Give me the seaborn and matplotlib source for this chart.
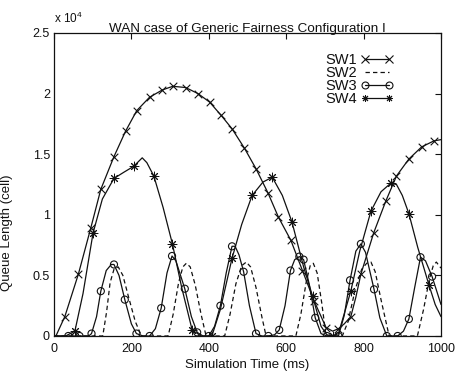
import matplotlib
matplotlib.use("Agg")
import matplotlib.pyplot as plt
import pandas as pd
import seaborn as sns
from matplotlib.lines import Line2D

# Queue length of each switch (units of 10^4 cells) against simulation time (ms)
sw1_t = [0, 5, 28, 63, 95, 121, 155, 185, 214, 247, 280, 307, 340, 372, 402, 432,
         460, 492, 522, 553, 580, 612, 642, 672, 703, 720, 735, 750, 767, 780, 793,
         826, 857, 885, 917, 950, 982, 1000]
sw1_q = [0.0, 0.0, 0.16, 0.51, 0.89, 1.21, 1.48, 1.69, 1.86, 1.97, 2.03, 2.06, 2.05,
         2.00, 1.93, 1.82, 1.71, 1.55, 1.38, 1.18, 0.98, 0.79, 0.54, 0.29, 0.07, 0.04,
         0.06, 0.10, 0.16, 0.32, 0.51, 0.85, 1.11, 1.32, 1.46, 1.56, 1.61, 1.62]
sw1_marks = [28, 63, 95, 121, 155, 185, 214, 247, 280, 307, 340, 372, 402, 432, 460,
             492, 522, 553, 580, 612, 642, 672, 703, 735, 767, 793, 826, 857, 885, 917,
             950, 982]

sw2_t = [0, 126, 136, 145, 155, 166, 178, 192, 210, 226, 295, 308, 322, 333, 342, 352,
         365, 380, 393, 441, 455, 470, 485, 497, 508, 522, 537, 548, 625, 638, 652, 662,
         670, 680, 692, 703, 745, 760, 778, 795, 808, 819, 830, 845, 866, 939, 955, 970,
         980, 988, 1000]
sw2_q = [0.0, 0.0, 0.20, 0.44, 0.55, 0.57, 0.50, 0.33, 0.12, 0.0, 0.0, 0.18, 0.44, 0.57,
         0.60, 0.57, 0.42, 0.18, 0.0, 0.0, 0.18, 0.43, 0.58, 0.61, 0.57, 0.40, 0.16, 0.0,
         0.0, 0.18, 0.45, 0.58, 0.60, 0.52, 0.27, 0.0, 0.0, 0.12, 0.38, 0.55, 0.60, 0.61,
         0.53, 0.30, 0.0, 0.0, 0.22, 0.47, 0.58, 0.61, 0.56]

sw3_t = [0, 37, 66, 90, 97, 110, 121, 135, 148, 155, 168, 183, 200, 213, 230, 247, 262,
         277, 292, 305, 315, 325, 338, 355, 370, 385, 400, 415, 430, 445, 460, 468, 478,
         490, 505, 522, 537, 554, 570, 582, 597, 611, 622, 634, 645, 660, 675, 690, 705,
         735, 750, 765, 780, 793, 805, 815, 827, 842, 860, 888, 903, 917, 932, 947, 960,
         977, 990, 1000]
sw3_q = [0.0, 0.0, 0.0, 0.0, 0.02, 0.16, 0.37, 0.54, 0.59, 0.59, 0.50, 0.30, 0.10, 0.02,
         0.0, 0.0, 0.06, 0.23, 0.52, 0.66, 0.62, 0.52, 0.39, 0.16, 0.03, 0.0, 0.0, 0.08,
         0.25, 0.52, 0.74, 0.74, 0.67, 0.53, 0.25, 0.02, 0.0, 0.0, 0.01, 0.05, 0.25, 0.54,
         0.63, 0.655, 0.63, 0.42, 0.15, 0.02, 0.0, 0.0, 0.17, 0.46, 0.70, 0.76, 0.69, 0.55,
         0.385, 0.15, 0.0, 0.0, 0.04, 0.14, 0.40, 0.65, 0.62, 0.49, 0.36, 0.26]
sw3_marks = [37, 66, 97, 121, 155, 183, 213, 247, 277, 305, 338, 370, 400, 430, 460,
             490, 522, 554, 582, 611, 634, 645, 675, 705, 735, 765, 793, 827, 860, 888,
             917, 947, 977]

sw4_t = [0, 30, 54, 75, 101, 125, 155, 180, 206, 228, 240, 258, 282, 306, 330, 357, 380,
         408, 430, 460, 485, 512, 540, 564, 590, 615, 645, 668, 690, 705, 720, 735, 767,
         790, 819, 845, 870, 885, 900, 917, 940, 969, 985, 1000]
sw4_q = [0.0, 0.0, 0.04, 0.35, 0.85, 1.13, 1.30, 1.35, 1.40, 1.47, 1.43, 1.32, 1.06, 0.76,
         0.40, 0.05, 0.0, 0.0, 0.22, 0.64, 0.92, 1.16, 1.27, 1.31, 1.16, 0.94, 0.57, 0.33,
         0.08, 0.01, 0.0, 0.02, 0.37, 0.70, 1.03, 1.19, 1.26, 1.25, 1.16, 1.01, 0.73, 0.42,
         0.26, 0.16]
sw4_marks = [54, 101, 155, 206, 258, 306, 357, 408, 460, 512, 564, 615, 668, 720, 767,
             819, 870, 917, 969]

series_names = ["SW1", "SW2", "SW3", "SW4"]
x_ticks = [0, 200, 400, 600, 800, 1000]
y_ticks = [0, 0.5, 1, 1.5, 2, 2.5]
y_tick_labels = ["0", "0.5", "1", "1.5", "2", "2.5"]

sns.set_theme(style="white")
plt.rcParams["font.family"] = ["Liberation Sans", "DejaVu Sans"]
plt.rcParams["mathtext.default"] = "regular"

INK = "#111111"
LW = 0.9
DASH = (0, (3.5, 2.5))
ASTERISK = (8, 2, 0)

fig = plt.figure(figsize=(4.61, 3.76), dpi=100)
ax = fig.add_axes([0.1171, 0.1064, 0.8395, 0.8059])


def frame(t, q, marks=None):
    df = pd.DataFrame({"t": t, "q": q})
    if marks is None:
        return df, None
    return df, df[df["t"].isin(marks)]


d1, m1 = frame(sw1_t, sw1_q, sw1_marks)
d2, _ = frame(sw2_t, sw2_q)
d3, m3 = frame(sw3_t, sw3_q, sw3_marks)
d4, m4 = frame(sw4_t, sw4_q, sw4_marks)

sns.lineplot(data=d1, x="t", y="q", ax=ax, color=INK, lw=LW, estimator=None, sort=False)
sns.lineplot(data=d2, x="t", y="q", ax=ax, color=INK, lw=LW, estimator=None, sort=False,
             linestyle=DASH)
sns.lineplot(data=d3, x="t", y="q", ax=ax, color=INK, lw=LW, estimator=None, sort=False)
sns.lineplot(data=d4, x="t", y="q", ax=ax, color=INK, lw=LW, estimator=None, sort=False)

sns.scatterplot(data=m1, x="t", y="q", ax=ax, marker="x", color=INK, s=30, linewidth=0.8,
                zorder=3)
sns.scatterplot(data=m3, x="t", y="q", ax=ax, marker="o", s=26, facecolor="none",
                edgecolor=INK, linewidth=0.8, zorder=3)
sns.scatterplot(data=m4, x="t", y="q", ax=ax, marker=ASTERISK, color=INK, s=40,
                linewidth=0.7, zorder=3)

ax.set_xlim(0, 1000)
ax.set_ylim(0, 2.5)
ax.set_xticks(x_ticks)
ax.set_xticklabels([str(v) for v in x_ticks])
ax.set_yticks(y_ticks)
ax.set_yticklabels(y_tick_labels)
ax.tick_params(direction="in", top=True, right=True, length=4.5, width=0.8,
               labelsize=9, colors=INK)
ax.tick_params(axis="x", pad=5)
ax.tick_params(axis="y", pad=3)
for sp in ax.spines.values():
    sp.set_visible(True)
    sp.set_color(INK)
    sp.set_linewidth(0.9)

ax.set_xlabel("Simulation Time (ms)", fontsize=9.5, color=INK, labelpad=3)
ax.set_ylabel("Queue Length (cell)", fontsize=9.5, color=INK)
ax.yaxis.set_label_coords(-0.107, 0.34)
ax.set_title("WAN case of Generic Fairness Configuration I", fontsize=9.7,
             color=INK, pad=1)
ax.text(0.0, 1.022, r"x 10$^{4}$", transform=ax.transAxes, ha="left", va="bottom",
        fontsize=8.5, color=INK)

handles = [
    Line2D([], [], color=INK, lw=LW, marker="x", ms=5.5, mew=0.8),
    Line2D([], [], color=INK, lw=LW, linestyle=DASH),
    Line2D([], [], color=INK, lw=LW, marker="o", ms=5, mfc="none", mew=0.8),
    Line2D([], [], color=INK, lw=LW, marker=ASTERISK, ms=5, mew=0.7),
]
ax.legend(handles, series_names, loc="upper left", bbox_to_anchor=(0.70, 0.935),
          frameon=False, markerfirst=False, numpoints=2, fontsize=10.5,
          handlelength=2.3, handletextpad=0.25, labelspacing=-0.05, borderpad=0,
          borderaxespad=0, labelcolor=INK)

fig.savefig("out.png", dpi=100)
